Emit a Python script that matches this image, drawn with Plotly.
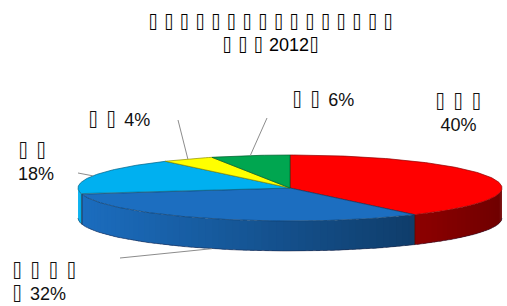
import numpy as np
import plotly.graph_objects as go

# ---------------- data ----------------
names = ["▯▯▯", "▯▯▯▯", "▯▯", "▯▯", "▯▯"]
name_tail = ["", "▯", "", "", ""]          # glyph before the value on the 2nd line
shares = [40, 32, 18, 4, 6]
title_main = "▯" * 16
title_sub = "▯▯▯"
title_year = "2012"
title_end = "▯"

# ---------------- style ----------------
top_colors = [(255, 0, 0), (28, 110, 192), (0, 176, 240), (255, 255, 0), (0, 166, 80)]
CX, CY, RX, RY, DEPTH = 290, 188, 212, 33, 30
W, H = 507, 306
FONT = "Liberation Sans, Arial, sans-serif"
BOX = "\u2337"   # tall narrow box, drawn for the unreadable glyphs


def glyphs(s, size, gap):
    """Render unreadable glyphs as tall narrow boxes with a fixed gap."""
    sep = '<span style="font-family:DejaVu Sans Mono;font-size:%dpx">\u00a0</span>' % gap
    out = []
    for ch in s:
        if ch == "▯":
            out.append('<span style="font-family:DejaVu Sans Mono;font-size:%dpx">%s</span>' % (size, BOX))
        else:
            out.append(ch)
    return sep.join(out), sep


def pt(theta, dy=0.0):
    t = np.radians(theta)
    return CX + RX * np.sin(t), CY - RY * np.cos(t) + dy


def rgb(c, f=1.0):
    return "rgb(%d,%d,%d)" % tuple(int(max(0, min(255, v * f))) for v in c)


fig = go.Figure()

total = float(sum(shares))
bounds = np.concatenate([[0], np.cumsum(shares)]) / total * 360.0

# sides (visible front half: 90..270 deg clockwise from top)
for i, c in enumerate(top_colors):
    a0, a1 = bounds[i], bounds[i + 1]
    s0, s1 = max(a0, 90), min(a1, 270)
    if s1 <= s0:
        continue
    n = max(1, int(np.ceil((s1 - s0) / 2.0)))
    edges = np.linspace(s0, s1, n + 1)
    for j in range(n):
        e1 = min(s1, edges[j + 1] + 1.2)
        th = np.linspace(edges[j], e1, 4)
        xt, yt = pt(th)
        xb, yb = pt(th[::-1], DEPTH)
        xm = np.mean(xt)
        f = max(0.42, 1.0 - (xm - 77) * 0.00132)
        fig.add_trace(go.Scatter(
            x=np.concatenate([xt, xb, xt[:1]]), y=np.concatenate([yt, yb, yt[:1]]),
            mode="lines", fill="toself", fillcolor=rgb(c, f),
            line=dict(width=0), hoverinfo="skip", showlegend=False))
    for a in (s0, s1):
        if 90 < a < 270:
            x0, y0 = pt(a)
            x1, y1 = pt(a, DEPTH)
            fig.add_trace(go.Scatter(x=[x0, x1], y=[y0, y1], mode="lines",
                                     line=dict(width=0.8, color="rgba(40,10,10,0.7)"),
                                     hoverinfo="skip", showlegend=False))

# outline of bottom edge
th = np.linspace(90, 270, 120)
xb, yb = pt(th, DEPTH)
fig.add_trace(go.Scatter(x=xb, y=yb, mode="lines", line=dict(width=0.8, color="rgba(30,30,60,0.6)"),
                         hoverinfo="skip", showlegend=False))

# top faces
for i, c in enumerate(top_colors):
    a0, a1 = bounds[i], bounds[i + 1]
    th = np.linspace(a0, a1, max(3, int(a1 - a0) + 2))
    xs, ys = pt(th)
    fig.add_trace(go.Scatter(
        x=np.concatenate([[CX], xs, [CX]]), y=np.concatenate([[CY], ys, [CY]]),
        mode="lines", fill="toself", fillcolor=rgb(c),
        line=dict(width=0.7, color=rgb(c, 0.55)), hoverinfo="skip", showlegend=False))

# leader lines (from label positions to slice midpoints on the rim)
leader_start = {1: (120, 258), 2: (78, 173), 3: (178, 120), 4: (267, 118)}
for i, (lx, ly) in leader_start.items():
    mid = (bounds[i] + bounds[i + 1]) / 2
    dy = DEPTH if 90 < mid < 270 else 0
    ex, ey = pt(mid, dy)
    fig.add_trace(go.Scatter(x=[lx, ex], y=[ly, ey], mode="lines",
                             line=dict(width=1, color="#8c8c8c"),
                             hoverinfo="skip", showlegend=False))

# labels
label_pos = [(458, 113, "center", 2), (10, 282, "left", 2), (16, 162, "left", 2),
             (86, 119, "left", 1), (290, 99, "left", 1)]
for i, (lx, ly, al, lines) in enumerate(label_pos):
    val = f"{shares[i]}%"
    nm, sep = glyphs(names[i], 18, 12)
    if name_tail[i]:
        tl, _ = glyphs(name_tail[i], 18, 12)
        tail = tl + sep
    else:
        tail = ""
    if lines == 2:
        txt = nm + "<br>" + tail + val
    else:
        txt = nm + sep + val
    fig.add_annotation(x=lx, y=ly, xref="x", yref="y", text=txt, showarrow=False,
                       xanchor=al, yanchor="middle", align=al,
                       font=dict(family=FONT, size=18, color="#111111"))

t1, tsep = glyphs(title_main, 17, 9)
t2, _ = glyphs(title_sub, 17, 9)
t3, _ = glyphs(title_end, 17, 9)
fig.add_annotation(x=270, y=33, xref="x", yref="y",
                   text=t1 + "<br>" + t2 + tsep + title_year + t3,
                   showarrow=False, xanchor="center", yanchor="middle", align="center",
                   font=dict(family=FONT, size=18, color="#000000"))

fig.update_layout(
    width=W, height=H, margin=dict(l=0, r=0, t=0, b=0),
    paper_bgcolor="white", plot_bgcolor="white",
    xaxis=dict(range=[0, W], visible=False, fixedrange=True),
    yaxis=dict(range=[H, 0], visible=False, fixedrange=True),
)
fig.write_html("out.html", config={"displayModeBar": False},
               post_script="document.body.style.margin='0';")
